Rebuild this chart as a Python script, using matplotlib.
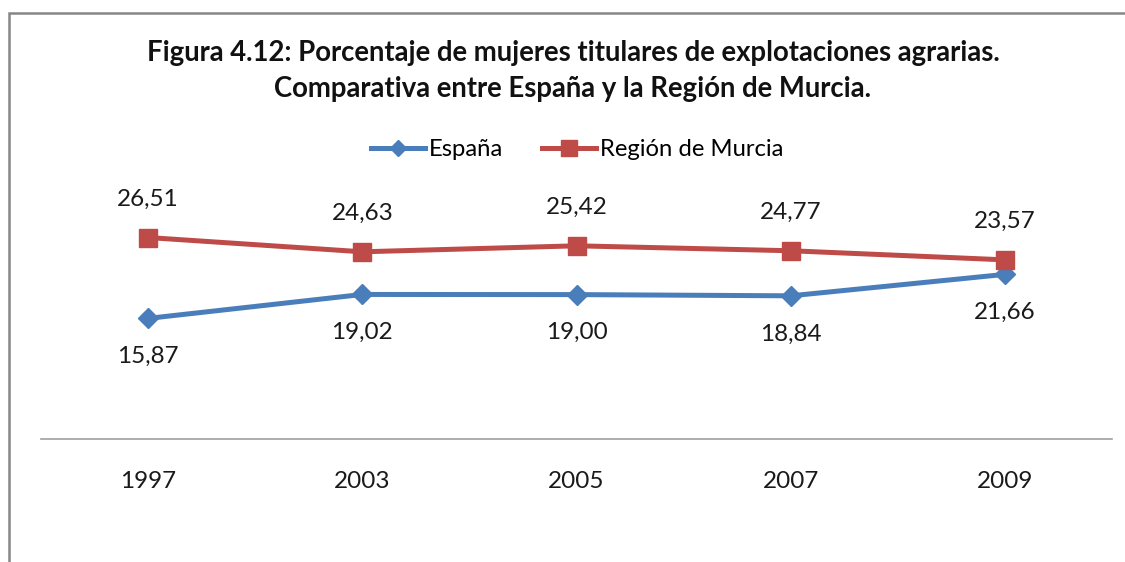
import matplotlib
matplotlib.use("Agg")
import matplotlib.pyplot as plt
from matplotlib.patches import Rectangle

years = ["1997", "2003", "2005", "2007", "2009"]
espana = [15.87, 19.02, 19.00, 18.84, 21.66]
murcia = [26.51, 24.63, 25.42, 24.77, 23.57]
title = "Figura 4.12: Porcentaje de mujeres titulares de explotaciones agrarias.\nComparativa entre España y la Región de Murcia."

plt.rcParams['font.family'] = ['Lato', 'DejaVu Sans']

W, H = 1125, 562
fig = plt.figure(figsize=(W/100, H/100), dpi=100)

# outer chart frame (only left/top visible)
fig.patches.append(Rectangle((9/W, -0.1), 1.2, (H-13)/H + 0.1, transform=fig.transFigure,
                             fill=False, edgecolor='#868686', linewidth=1.8))

left, right = 41/W, 1112/W
bottom, top = (H-439)/H, (H-211)/H
ax = fig.add_axes([left, bottom, right-left, top-bottom])
ax.set_facecolor('none')
x = list(range(len(years)))

blue = '#4A7EBB'
red = '#BE4B48'
ax.plot(x, espana, color=blue, lw=3.6, marker='D', ms=10, label='España', zorder=3)
ax.plot(x, murcia, color=red, lw=3.6, marker='s', ms=13, label='Región de Murcia', zorder=3)

fs = 17.5
for xi, v in zip(x, espana):
    ax.annotate(f"{v:.2f}".replace('.', ','), (xi, v), xytext=(0, -27.5), textcoords='offset points',
                ha='center', va='center', fontsize=fs, color='#1a1a1a')
for xi, v in zip(x, murcia):
    ax.annotate(f"{v:.2f}".replace('.', ','), (xi, v), xytext=(0, 27.5), textcoords='offset points',
                ha='center', va='center', fontsize=fs, color='#1a1a1a')

ax.set_xlim(-0.5, len(years)-0.5)
ax.set_ylim(0, 30)
for s in ['left', 'right', 'top']:
    ax.spines[s].set_visible(False)
ax.spines['bottom'].set_color('#A0A0A0')
ax.spines['bottom'].set_linewidth(1.2)
ax.set_yticks([])
ax.set_xticks(x)
ax.set_xticklabels(years, fontsize=fs, color='#1a1a1a')
ax.tick_params(axis='x', length=0, pad=23)

fig.text(573/W, (H-71)/H, title, ha='center', va='center', fontsize=19.8, fontweight='bold',
         linespacing=1.45, color='#111111')

handles, labels = ax.get_legend_handles_labels()
fig.legend(handles, labels, loc='center', bbox_to_anchor=(577/W, (H-150)/H), ncol=2,
           frameon=False, fontsize=17.2, handlelength=2.3, handletextpad=0.15, columnspacing=1.6,
           markerscale=0.85)

fig.savefig('out.png', dpi=100)
